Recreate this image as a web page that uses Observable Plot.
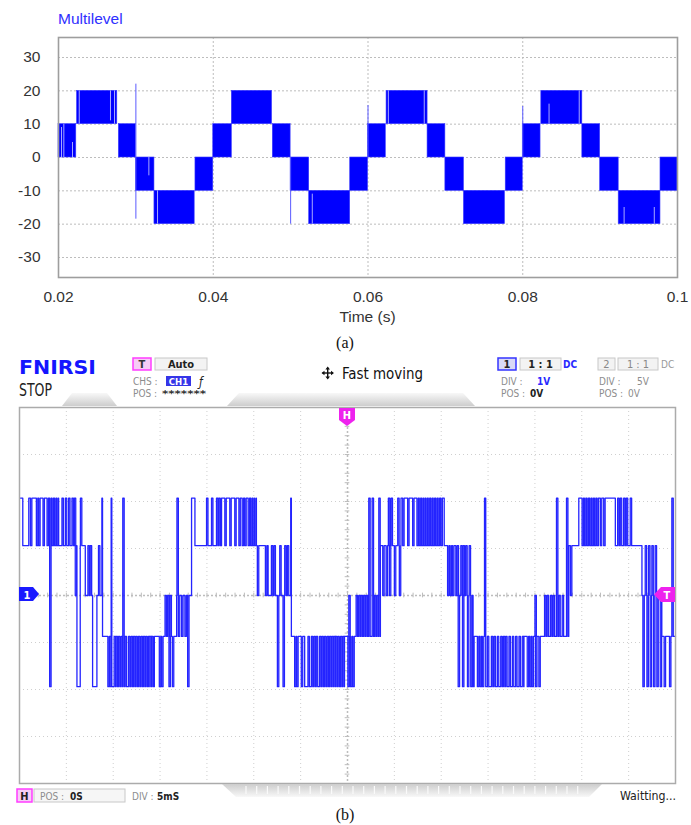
<!DOCTYPE html>
<html>
<head>
<meta charset="utf-8">
<script src="https://cdn.jsdelivr.net/npm/d3@7"></script>
<script src="https://cdn.jsdelivr.net/npm/@observablehq/plot@0.6"></script>
<style>
  html, body { margin: 0; padding: 0; background: #fff; }
  #page { position: relative; width: 691px; height: 825px; overflow: hidden; background: #fff; }
  .layer { position: absolute; left: 0; }
</style>
</head>
<body>
<div id="page">
  <div id="simPlot" class="layer" style="top:0"></div>
  <div id="scopePlot" class="layer" style="top:400px"></div>
  <svg id="chrome" class="layer" style="top:0" width="691" height="825"
       font-family="'DejaVu Sans Condensed','DejaVu Sans',sans-serif">
    <defs>
      <linearGradient id="tabUp" x1="0" y1="0" x2="0" y2="1">
        <stop offset="0" stop-color="#f8f8f8"/><stop offset="1" stop-color="#cdcdcd"/>
      </linearGradient>
      <linearGradient id="tabDown" x1="0" y1="0" x2="0" y2="1">
        <stop offset="0" stop-color="#cdcdcd"/><stop offset="1" stop-color="#f8f8f8"/>
      </linearGradient>
    </defs>

    <!-- panel (a) titles -->
    <text x="58" y="23.5" font-family="'Liberation Sans',Arial,sans-serif" font-size="15.5" fill="#2f2fff">Multilevel</text>
    <text x="367.5" y="321.5" text-anchor="middle" font-family="'Liberation Sans',Arial,sans-serif" font-size="15.5" fill="#333">Time (s)</text>
    <text x="345" y="348" text-anchor="middle" font-family="'Liberation Serif','Times New Roman',serif" font-size="16" fill="#111">(a)</text>

    <!-- scope header -->
    <text x="19" y="374" font-family="'DejaVu Sans',sans-serif" font-weight="bold" font-size="20" fill="#1515ff" textLength="77" lengthAdjust="spacingAndGlyphs">FNIRSI</text>
    <text x="19" y="396" font-size="17" fill="#222" textLength="33" lengthAdjust="spacingAndGlyphs">STOP</text>

    <rect x="133" y="358" width="18" height="12" fill="#f6cdf6" stroke="#ff3cff" stroke-width="1.5"/>
    <text x="142" y="368" text-anchor="middle" font-size="11" font-weight="bold" fill="#333">T</text>
    <rect x="155" y="358" width="52" height="12" fill="#f3f3f3" stroke="#c8c8c8"/>
    <text x="181" y="368" text-anchor="middle" font-size="11" font-weight="bold" fill="#222">Auto</text>
    <text x="133" y="385" font-size="10" fill="#8c8c8c">CHS :</text>
    <rect x="166" y="376" width="25" height="10" fill="#3535e8"/>
    <text x="178.5" y="385" text-anchor="middle" font-size="9.5" font-weight="bold" fill="#fff">CH1</text>
    <text x="199" y="386" font-size="12" font-style="italic" fill="#222">ƒ</text>
    <text x="133" y="397" font-size="10" fill="#8c8c8c">POS :</text>
    <text x="162" y="397" font-size="9" font-weight="bold" fill="#333" textLength="44" lengthAdjust="spacingAndGlyphs">*******</text>

    <!-- move icon + mode text -->
    <g stroke="#111" stroke-width="1.4" fill="#111">
      <line x1="322.5" y1="373" x2="333" y2="373"/>
      <line x1="327.7" y1="367.8" x2="327.7" y2="378.2"/>
      <path d="M327.7 366.5 l-2.3 3 h4.6 z M327.7 379.5 l-2.3 -3 h4.6 z M321.5 373 l3 -2.3 v4.6 z M334 373 l-3 -2.3 v4.6 z" stroke="none"/>
    </g>
    <text x="342" y="379" font-size="16" fill="#111" textLength="81" lengthAdjust="spacingAndGlyphs">Fast moving</text>

    <!-- channel 1 -->
    <rect x="498" y="358" width="18" height="12" fill="#d9d9f6" stroke="#3535ff" stroke-width="1.5"/>
    <text x="507" y="368" text-anchor="middle" font-size="11" font-weight="bold" fill="#222">1</text>
    <rect x="520" y="358" width="41" height="12" fill="#f3f3f3" stroke="#c8c8c8"/>
    <text x="540.5" y="368" text-anchor="middle" font-size="11" font-weight="bold" fill="#222">1 : 1</text>
    <text x="563" y="368" font-size="10" font-weight="bold" fill="#2a2aff">DC</text>
    <text x="501" y="385" font-size="10" fill="#8c8c8c">DIV :</text>
    <text x="537" y="385" font-size="10" font-weight="bold" fill="#2a2aff">1V</text>
    <text x="501" y="397" font-size="10" fill="#8c8c8c">POS :</text>
    <text x="530" y="397" font-size="10" font-weight="bold" fill="#222">0V</text>

    <!-- channel 2 -->
    <rect x="598" y="358" width="17" height="12" fill="#f3f3f3" stroke="#c8c8c8"/>
    <text x="606.5" y="368" text-anchor="middle" font-size="11" fill="#888">2</text>
    <rect x="618" y="358" width="40" height="12" fill="#f3f3f3" stroke="#c8c8c8"/>
    <text x="638" y="368" text-anchor="middle" font-size="11" fill="#888">1 : 1</text>
    <text x="661" y="368" font-size="10" fill="#999">DC</text>
    <text x="599" y="385" font-size="10" fill="#8c8c8c">DIV :</text>
    <text x="637" y="385" font-size="10" fill="#8c8c8c">5V</text>
    <text x="599" y="397" font-size="10" fill="#8c8c8c">POS :</text>
    <text x="628" y="397" font-size="10" fill="#8c8c8c">0V</text>

    <!-- screen tabs -->
    <polygon points="62,406 72,393 107,393 117,406" fill="url(#tabUp)"/>
    <polygon points="227,406 239,393 463,393 475,406" fill="url(#tabUp)"/>
    <polygon points="222,784 602,784 589,797 236,797" fill="url(#tabDown)"/>
    <g id="tabTicks" stroke="#fafafa" stroke-width="1.2"></g>

    <!-- markers on the screen edges -->
    <polygon points="339,408 355,408 355,420 347,426 339,420" fill="#ee22ee"/>
    <text x="347" y="419" text-anchor="middle" font-size="11" font-weight="bold" fill="#fff">H</text>
    <polygon points="19,587 33,587 39,594 33,601 19,601" fill="#1a1aff"/>
    <text x="27" y="598.5" text-anchor="middle" font-size="11" font-weight="bold" fill="#fff">1</text>
    <polygon points="675,587 661,587 654,594.5 661,602 675,602" fill="#ee22ee"/>
    <text x="667" y="599" text-anchor="middle" font-size="11" font-weight="bold" fill="#fff">T</text>

    <!-- scope footer -->
    <rect x="17" y="789" width="15" height="13" fill="#f6cdf6" stroke="#ff3cff" stroke-width="1.5"/>
    <text x="24.5" y="799.5" text-anchor="middle" font-size="11" font-weight="bold" fill="#222">H</text>
    <rect x="34" y="789" width="91" height="13" fill="#f6f6f6" stroke="#c8c8c8"/>
    <text x="40" y="799.5" font-size="10" fill="#8c8c8c">POS :</text>
    <text x="70" y="799.5" font-size="10" font-weight="bold" fill="#222">0S</text>
    <text x="132" y="799.5" font-size="10" fill="#8c8c8c">DIV :</text>
    <text x="157" y="799.5" font-size="10" font-weight="bold" fill="#222">5mS</text>
    <text x="620" y="800" font-size="12" fill="#222" textLength="56" lengthAdjust="spacingAndGlyphs">Waitting...</text>
    <text x="345" y="820" text-anchor="middle" font-family="'Liberation Serif','Times New Roman',serif" font-size="16" fill="#111">(b)</text>
  </svg>
</div>

<script>
// ---------- (a) simulated five-level output ----------
// Each PWM band: [t start (s), t end (s), lower level, upper level]
const simBands = [
  [0.0200, 0.0223, 0, 10], [0.0224, 0.0276, 10, 20], [0.0278, 0.0300, 0, 10],
  [0.0300, 0.0324, -10, 0], [0.0324, 0.0376, -20, -10], [0.0377, 0.0400, -10, 0],
  [0.0400, 0.0424, 0, 10], [0.0424, 0.0476, 10, 20], [0.0477, 0.0500, 0, 10],
  [0.0500, 0.0524, -10, 0], [0.0524, 0.0577, -20, -10], [0.0577, 0.0600, -10, 0],
  [0.0600, 0.0623, 0, 10], [0.0624, 0.0677, 10, 20], [0.0677, 0.0700, 0, 10],
  [0.0700, 0.0724, -10, 0], [0.0724, 0.0777, -20, -10], [0.0778, 0.0800, -10, 0],
  [0.0800, 0.0823, 0, 10], [0.0824, 0.0877, 10, 20], [0.0877, 0.0900, 0, 10],
  [0.0900, 0.0924, -10, 0], [0.0924, 0.0978, -20, -10], [0.0978, 0.1000, -10, 0]
];
// Narrow off-intervals visible inside the bands: [t (s), from, to]
const simGaps = [
  [0.02039, 0, 9], [0.02069, 0, 10], [0.02181, 0, 4.5],
  [0.02268, 10, 20], [0.02672, 11, 20], [0.02724, 10, 20],
  [0.03168, -5.5, 0], [0.03280, -20, -10],
  [0.05280, -20, -11], [0.06263, 10, 20], [0.06727, 10, 20],
  [0.08340, 10, 16], [0.08730, 10, 20],
  [0.09310, -20, -15], [0.09700, -20, -15]
];
// Switching transients: [t (s), from, to]
const simSpikes = [
  [0.0300, -18.5, 22], [0.0500, -20, 0], [0.0600, 0, 15.6], [0.0800, 0, 15.3]
];
const simYTicks = [-30, -20, -10, 0, 10, 20, 30];
const simXTicks = [0.02, 0.04, 0.06, 0.08, 0.1];
const simXTickLabels = ["0.02", "0.04", "0.06", "0.08", "0.1"];

const simPlot = Plot.plot({
  width: 691, height: 310,
  marginLeft: 58, marginRight: 14, marginTop: 37, marginBottom: 33,
  style: { fontFamily: "'Liberation Sans', Arial, sans-serif", fontSize: "15.5px", color: "#333", background: "transparent", overflow: "visible" },
  x: { domain: [0.02, 0.1] },
  y: { domain: [-36, 36] },
  marks: [
    Plot.gridY(simYTicks, { stroke: "#bdbdbd", strokeOpacity: 1, strokeDasharray: "2,2" }),
    Plot.gridX(simXTicks.slice(1, -1), { stroke: "#bdbdbd", strokeOpacity: 1, strokeDasharray: "2,2" }),
    Plot.rect(simBands, { x1: d => d[0], x2: d => d[1], y1: d => d[2], y2: d => d[3], fill: "#0000ff", stroke: "#3a3aff", strokeWidth: 0.6 }),
    Plot.ruleX(simGaps, { x: d => d[0], y1: d => d[1], y2: d => d[2], stroke: "#a8a8ff", strokeWidth: 1 }),
    Plot.ruleX(simSpikes, { x: d => d[0], y1: d => d[1], y2: d => d[2], stroke: "#5a5aff", strokeWidth: 1 }),
    Plot.frame({ stroke: "#9e9e9e", strokeWidth: 1.6 }),
    Plot.axisX(simXTicks, { tickSize: 0, tickPadding: 13, label: null, tickFormat: (d, i) => simXTickLabels[i] }),
    Plot.axisY(simYTicks, { tickSize: 0, tickPadding: 18, label: null, tickFormat: d => String(d) })
  ]
});
document.getElementById("simPlot").appendChild(simPlot);

// ---------- (b) oscilloscope capture, CH1 1 V/div, 5 ms/div ----------
// Resting level of the trace from each time on: [t (ms), volts]
const scopeLevels = [
  [-34.90, 2.07], [-34.65, 1.06], [-34.01, 2.07],
  [-30.82, 1.06], [-28.87, -1.94], [-28.52, 1.06],
  [-27.98, 0], [-27.20, -1.94], [-26.74, 0],
  [-26.14, -0.87], [-25.15, -1.94], [-20.54, -0.87],
  [-18.23, 0], [-16.64, 2.07], [-16.28, 1.06],
  [-13.44, 2.07], [-9.72, 1.06], [-8.47, 0],
  [-5.99, -0.87], [-4.57, -1.94], [-0.32, -0.87],
  [3.51, 1.06], [5.71, 2.07], [10.32, 1.06],
  [11.56, 0], [13.51, -0.87], [14.75, -1.94],
  [18.83, -0.87], [23.61, 1.06], [24.68, 2.07],
  [28.58, 1.06], [31.42, 0], [33.54, -0.87], [35.00, -0.87]
];
// Short switching pulses away from the resting level: [t (ms), volts]
const scopePulses = [
  [-33.83, 1.06], [-33.20, 1.06], [-32.95, 1.06], [-32.49, 1.06], [-32.06, 1.06],
  [-31.78, -1.94], [-31.53, 1.06], [-31.25, 1.06], [-31.00, 1.06],
  [-30.47, 2.07], [-30.11, 2.07], [-29.76, 2.07], [-29.40, 2.07], [-29.15, 2.07], [-29.05, 0],
  [-28.50, 2.07],
  [-27.70, 1.06], [-27.45, 1.06],
  [-26.57, 1.06], [-26.21, 2.07],
  [-25.57, -1.94], [-25.32, -1.94], [-25.22, 2.07],
  [-24.90, -0.87], [-24.69, -0.87], [-24.44, -0.87], [-24.15, -0.87], [-23.98, 2.07],
  [-23.73, -0.87], [-23.37, -0.87], [-23.09, -0.87], [-22.84, -0.87], [-22.59, -0.87],
  [-22.31, -0.87], [-22.03, -0.87], [-21.78, -0.87], [-21.53, -0.87], [-21.25, -0.87],
  [-21.07, -0.87], [-20.89, -0.87], [-20.61, -0.87],
  [-20.08, -1.94], [-19.83, -1.94], [-19.47, 0], [-19.19, 0], [-19.05, -1.94], [-18.94, 0], [-18.69, -1.94],
  [-18.20, 2.07], [-18.05, -0.87], [-17.70, -0.87], [-17.35, -0.87], [-17.06, -1.94],
  [-15.04, 2.07], [-14.51, 2.07], [-13.98, 2.07], [-13.73, 2.07],
  [-13.09, 1.06], [-12.56, 1.06], [-12.03, 1.06], [-11.59, 1.06], [-11.24, 1.06],
  [-10.96, 1.06], [-10.60, 1.06], [-10.32, 1.06], [-10.07, 1.06], [-9.89, 1.06],
  [-9.62, 0], [-8.76, 0],
  [-8.12, 1.06], [-7.84, 1.06], [-7.48, -1.94], [-7.23, 1.06], [-6.88, -1.94],
  [-6.70, 1.06], [-6.42, 1.06], [-6.06, 2.07],
  [-5.64, -1.94], [-5.42, -1.94], [-4.93, -1.94],
  [-4.22, -0.87], [-3.86, -0.87], [-3.58, -0.87], [-3.33, -0.87], [-2.98, -0.87],
  [-2.73, -0.87], [-2.45, -0.87], [-2.16, -0.87], [-1.91, -0.87], [-1.67, -0.87],
  [-1.45, -0.87], [-1.28, -0.87], [-1.03, -0.87], [-0.74, -0.87], [-0.50, -0.87],
  [0.04, -1.94], [0.14, 0], [0.32, -1.94], [0.57, -1.94], [0.92, 0], [1.21, 0],
  [1.46, 0], [1.74, 0], [1.99, 0], [2.27, 2.07], [2.63, 2.07], [2.87, 0], [3.16, 0], [3.34, 2.07],
  [3.76, 0], [4.12, 0], [4.36, 2.07], [4.47, 0], [4.65, 2.07], [5.00, 0], [5.36, 2.07], [5.53, 0],
  [5.89, 1.06], [6.42, 1.06], [6.95, 1.06], [7.41, 1.06], [7.66, 1.06], [7.91, 1.06],
  [8.12, 1.06], [8.37, 1.06], [8.62, 1.06], [8.90, 1.06], [9.15, 1.06], [9.43, 1.06],
  [9.68, 1.06], [9.97, 1.06],
  [10.68, 0], [10.96, 0], [11.21, 0],
  [11.70, 1.06], [11.81, -1.94], [12.09, 1.06], [12.27, -1.94], [12.34, 1.06], [12.62, 1.06],
  [12.80, -1.94], [12.98, 1.06], [13.15, -1.94], [13.40, -1.94],
  [13.86, -1.94], [14.15, -1.94], [14.39, -1.94], [14.62, 2.07],
  [14.93, -0.87], [15.35, -0.87], [15.64, -0.87], [15.99, -0.87], [16.35, -0.87],
  [16.63, -0.87], [16.88, -0.87], [17.23, -0.87], [17.59, -0.87], [17.94, -0.87],
  [18.30, -0.87], [18.65, -0.87],
  [19.18, -1.94], [19.47, -1.94], [19.71, -1.94], [20.00, 0], [20.07, -1.94], [20.42, -1.94],
  [21.03, 0], [21.31, 0], [21.66, 0], [21.95, 0], [22.30, 2.07], [22.55, 0], [22.91, 0], [23.37, 2.07],
  [23.79, 0],
  [25.03, 1.06], [25.28, 1.06], [25.56, 1.06], [25.85, 1.06], [26.10, 1.06], [26.35, 1.06],
  [26.63, 1.06], [26.98, 1.06], [27.34, 1.06],
  [28.83, 2.07], [29.11, 2.07], [29.47, 2.07], [29.75, 2.07], [30.17, 2.07],
  [31.52, -1.94], [31.77, 1.06], [31.95, -1.94], [32.13, 1.06], [32.30, -1.94], [32.48, 1.06],
  [32.66, -1.94], [32.83, 1.06], [33.01, -1.94], [33.37, -1.94],
  [33.79, -1.94], [34.36, -1.94], [34.61, 2.07]
];
const pulseWidthMs = 0.15;
const scopeDivMs = [-30, -25, -20, -15, -10, -5, 5, 10, 15, 20, 25, 30];
const scopeDivV = [-3, -2, -1, 1, 2, 3];

// Assemble the step trace: resting levels with the pulses inserted.
const pulsesSorted = scopePulses.slice().sort((a, b) => a[0] - b[0]);
const trace = [];
for (let i = 0; i < scopeLevels.length - 1; i++) {
  const [t0, base] = scopeLevels[i];
  const t1 = scopeLevels[i + 1][0];
  trace.push({ t: t0, v: base });
  for (const [tp, vp] of pulsesSorted) {
    if (tp < t0 || tp >= t1) continue;
    trace.push({ t: tp, v: vp });
    const back = Math.min(tp + pulseWidthMs, t1);
    if (back < t1) trace.push({ t: back, v: base });
  }
}
const lastLevel = scopeLevels[scopeLevels.length - 1];
trace.push({ t: lastLevel[0], v: lastLevel[1] });

// small graduation marks on the centre cross
const centreTicksMs = d3.range(-35, 35.01, 1);
const centreTicksV = d3.range(-4, 4.001, 0.2);

const scopePlot = Plot.plot({
  width: 691, height: 390,
  marginLeft: 19, marginRight: 16, marginTop: 7, marginBottom: 7,
  style: { background: "transparent", overflow: "visible" },
  x: { domain: [-35, 35], axis: null },
  y: { domain: [-4, 4], axis: null },
  marks: [
    Plot.ruleX(scopeDivMs, { stroke: "#cfcfcf", strokeDasharray: "1,3" }),
    Plot.ruleY(scopeDivV, { stroke: "#cfcfcf", strokeDasharray: "1,3" }),
    Plot.ruleX([0], { stroke: "#bdbdbd", strokeDasharray: "2,2", strokeWidth: 1.5 }),
    Plot.ruleY([0], { stroke: "#bdbdbd", strokeDasharray: "2,2", strokeWidth: 1.5 }),
    Plot.ruleX(centreTicksMs, { y1: -0.05, y2: 0.05, stroke: "#bdbdbd" }),
    Plot.ruleY(centreTicksV, { x1: -0.25, x2: 0.25, stroke: "#bdbdbd" }),
    Plot.line(trace, { x: "t", y: "v", curve: "step-after", stroke: "#2424ff", strokeWidth: 1.3 }),
    Plot.frame({ stroke: "#ababab", strokeWidth: 1.5 })
  ]
});
document.getElementById("scopePlot").appendChild(scopePlot);

// graduation slots on the lower tab
const tabTicks = document.getElementById("tabTicks");
for (let x = 246; x <= 578; x += 10.7) {
  const l = document.createElementNS("http://www.w3.org/2000/svg", "line");
  l.setAttribute("x1", x); l.setAttribute("x2", x);
  l.setAttribute("y1", 786); l.setAttribute("y2", 794);
  tabTicks.appendChild(l);
}
</script>
</body>
</html>
